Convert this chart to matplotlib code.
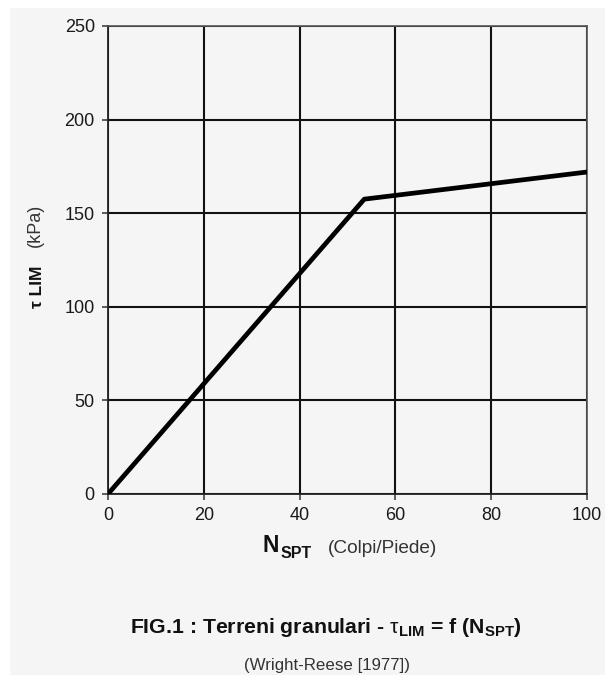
import matplotlib.pyplot as plt
from matplotlib.patches import Rectangle

plt.rcParams['font.family'] = ['Liberation Sans', 'DejaVu Sans']
plt.rcParams['mathtext.fontset'] = 'custom'
plt.rcParams['mathtext.rm'] = 'Liberation Sans'
plt.rcParams['mathtext.it'] = 'Liberation Sans:italic'
plt.rcParams['mathtext.bf'] = 'Liberation Sans:bold'

# Wright-Reese (1977) curve
n_spt = [0, 53.5, 100]
tau_lim = [0, 157.5, 172]

x_ticks = [0, 20, 40, 60, 80, 100]
y_ticks = [0, 50, 100, 150, 200, 250]

W, H = 605, 675
bg = '#f5f5f5'

fig = plt.figure(figsize=(W / 100, H / 100), dpi=100, facecolor='white')
# grey page with thin white strip on the left and top
fig.patches.append(Rectangle((10 / W, 0), 1, 1 - 8 / H, transform=fig.transFigure,
                             facecolor=bg, edgecolor='none', zorder=-10))

ax = fig.add_axes([108 / W, 1 - 494 / H, (587 - 108) / W, (494 - 26) / H])
ax.set_facecolor(bg)
ax.plot(n_spt, tau_lim, color='black', lw=3.4, solid_capstyle='butt', zorder=5)

ax.set_xlim(0, 100)
ax.set_ylim(0, 250)
ax.set_xticks(x_ticks)
ax.set_yticks(y_ticks)
ax.grid(True, color='#111111', lw=1.5)
ax.set_axisbelow(True)
for side in ['left', 'bottom']:
    ax.spines[side].set_color('#222222')
    ax.spines[side].set_linewidth(1.3)
for side in ['top', 'right']:
    ax.spines[side].set_color('#555555')
    ax.spines[side].set_linewidth(1.2)
ax.tick_params(direction='out', length=4.5, width=1.1, color='#333333',
               labelsize=13, labelcolor='#1a1a1a', pad=5)

# x label
fig.text(263 / W, 1 - 552 / H, 'N', fontsize=16.5, fontweight='bold', color='#111111')
fig.text(281 / W, 1 - 558 / H, 'SPT', fontsize=11.5, fontweight='bold', color='#111111')
fig.text(328 / W, 1 - 553 / H, '(Colpi/Piede)', fontsize=13.7, color='#333333')

# y label
fig.text(42 / W, 1 - 308 / H, 'τ LIM', fontsize=12.5, fontweight='bold', color='#111111',
         rotation=90, rotation_mode='anchor', ha='left', va='baseline')
fig.text(40 / W, 1 - 247 / H, '(kPa)', fontsize=13, color='#333333',
         rotation=90, rotation_mode='anchor', ha='left', va='baseline')

# caption
fig.text(326 / W, 1 - 633 / H,
         r'FIG.1 : Terreni granulari - $\mathrm{\tau}_{\mathbf{LIM}}$ = f (N$_{\mathbf{SPT}}$)',
         fontsize=15.3, fontweight='bold', color='#111111', ha='center', va='baseline')
fig.text(327 / W, 1 - 670 / H, '(Wright-Reese [1977])', fontsize=12.2, color='#333333',
         ha='center', va='baseline')

fig.savefig('out.png', dpi=100, facecolor=fig.get_facecolor())
